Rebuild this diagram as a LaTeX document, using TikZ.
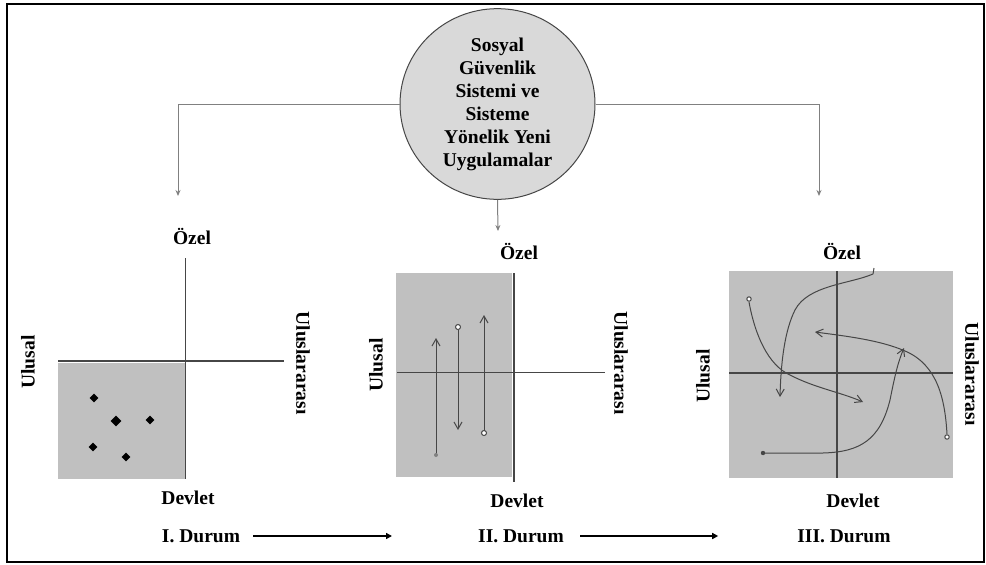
\documentclass[tikz,border=0pt]{standalone}
\usepackage{fontspec}
\setmainfont{Liberation Serif}
\usepackage{xcolor}
\usetikzlibrary{shapes.geometric, arrows.meta, positioning, calc}
\definecolor{boxgray}{RGB}{192,192,192}
\definecolor{bubblegray}{RGB}{217,217,217}
\definecolor{linkgray}{RGB}{128,128,128}
\definecolor{axisgray}{RGB}{70,70,70}
\tikzset{
  lbl/.style={font=\fontsize{19.5}{23}\selectfont\bfseries, inner sep=1pt},
  link/.style={draw=linkgray, line width=1pt, -{Stealth[length=6pt,width=5pt]}},
  axis/.style={draw=axisgray, line width=1.3pt},
  path3/.style={draw=axisgray, line width=1pt},
  vtip/.style={-{Straight Barb[length=7pt,width=8pt]}},
  flow/.style={draw=black, line width=1.6pt, -{Triangle[length=6pt,width=6pt]}},
  dot/.style={diamond, fill=black, inner sep=0pt, minimum size=9pt}
}
\begin{document}
\begin{tikzpicture}[x=1pt, y=-1pt]
\useasboundingbox (0,0) rectangle (986,565);
\draw[line width=1.5pt] (7,4) rectangle (984,562);
% Header
\node[ellipse, draw=axisgray, line width=1pt, fill=bubblegray,
  minimum width=195pt, minimum height=184pt, align=center, lbl]
  (sgs) at (497.5,104)
  {Sosyal\\Güvenlik\\Sistemi ve\\Sisteme\\Yönelik Yeni\\Uygulamalar};
\coordinate (inI) at (178,196);
\coordinate (inII) at (498,231);
\coordinate (inIII) at (819,196);
\draw[link] (sgs.west) -| (inI);
\draw[link] (sgs.east) -| (inIII);
\draw[link] (sgs.south) -- (inII);
% Case I
\fill[boxgray] (58,363) rectangle (185,479);
\coordinate (nI) at (185.5,258);
\coordinate (sI) at (185.5,479);
\coordinate (wI) at (58,361);
\coordinate (eI) at (284,361);
\draw[axis] (nI) -- (sI);
\draw[axis] (wI) -- (eI);
\node[dot] (d1) at (94,398) {};
\node[dot, minimum size=11pt] (d2) at (116,421) {};
\node[dot] (d3) at (150,420) {};
\node[dot] (d4) at (93,447) {};
\node[dot] (d5) at (126,457) {};
\node[lbl] (ozelI) at (192,236) {Özel};
\node[lbl] (devletI) at (188,498) {Devlet};
\node[lbl, rotate=90] (ulusalI) at (28,362) {Ulusal};
\node[lbl, rotate=-90] (uluslarI) at (303,363) {Uluslararası};
% Case II
\fill[boxgray] (396,273) rectangle (512,477);
\coordinate (nII) at (514,273);
\coordinate (sII) at (514,482);
\coordinate (wII) at (397,372);
\coordinate (eII) at (605,372);
\draw[axis] (nII) -- (sII);
\draw[axis, line width=1pt] (wII) -- (eII);
\draw[path3, vtip] (436,455) -- (436,338);
\fill[linkgray] (436,455) circle (2pt);
\draw[path3, vtip] (458,329.5) -- (458,430);
\draw[path3, fill=white] (458,327) circle (2.5pt);
\draw[path3, vtip] (484,430.5) -- (484,315);
\draw[path3, fill=white] (484,433) circle (2.5pt);
\node[lbl] (ozelII) at (519,251) {Özel};
\node[lbl] (devletII) at (517,501) {Devlet};
\node[lbl, rotate=90] (ulusalII) at (376,365) {Ulusal};
\node[lbl, rotate=-90] (uluslarII) at (621,363) {Uluslararası};
% Case III
\fill[boxgray] (729,271) rectangle (953,478);
\coordinate (nIII) at (837,271);
\coordinate (sIII) at (837,478);
\coordinate (wIII) at (729,373);
\coordinate (eIII) at (953,373);
\draw[axis] (nIII) -- (sIII);
\draw[axis] (wIII) -- (eIII);
\draw[path3, vtip] (873,274) .. controls (850,284) and (808,285) .. (795,310)
  .. controls (785,330) and (781,360) .. (780,397);
\draw[path3] (873,274) -- (874,268);
\draw[path3, vtip] (749,302) .. controls (755,335) and (768,365) .. (790,375)
  .. controls (815,388) and (840,392) .. (863,402);
\draw[path3, fill=white] (749,299) circle (2.2pt);
\draw[path3, vtip] (763,453) -- (823,453) .. controls (860,452) and (880,440) .. (890,400)
  .. controls (895,375) and (898,362) .. (904,348);
\fill[axisgray] (763,453) circle (2.2pt);
\draw[path3, vtip] (947,434) .. controls (945,400) and (938,365) .. (905,351)
  .. controls (880,340) and (845,336) .. (815,332);
\draw[path3, fill=white] (947,437) circle (2.2pt);
\node[lbl] (ozelIII) at (842,251) {Özel};
\node[lbl] (devletIII) at (853,501) {Devlet};
\node[lbl, rotate=90] (ulusalIII) at (703,376) {Ulusal};
\node[lbl, rotate=-90] (uluslarIII) at (972,374) {Uluslararası};
% Stages
\node[lbl] (durumI) at (201,536) {I. Durum};
\node[lbl] (durumII) at (521,536) {II. Durum};
\node[lbl] (durumIII) at (844,536) {III. Durum};
\draw[flow, shorten <=12pt, shorten >=85pt] (durumI.east) -- (durumII.west);
\draw[flow, shorten <=15pt, shorten >=78pt] (durumII.east) -- (durumIII.west);
\end{tikzpicture}
\end{document}
